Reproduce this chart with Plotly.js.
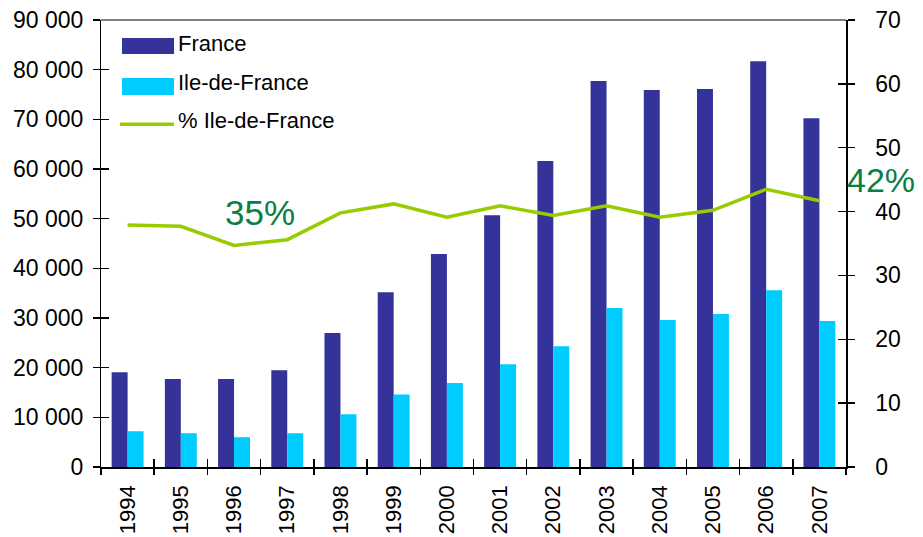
<!DOCTYPE html>
<html>
<head>
<meta charset="utf-8">
<script src="https://cdn.plot.ly/plotly-3.0.1.min.js"></script>
<style>html,body{margin:0;padding:0;background:#fff;}#chart{width:923px;height:537px;}</style>
</head>
<body>
<div id="chart"></div>
<script>
const years = ["1994","1995","1996","1997","1998","1999","2000","2001","2002","2003","2004","2005","2006","2007"];
const france = [19100,17700,17700,19500,27000,35200,42900,50700,61600,77700,75900,76100,81700,70200];
const idf = [7200,6800,6000,6800,10600,14600,16900,20700,24300,32000,29600,30800,35600,29400];
const pctIdf = [37.9,37.7,34.7,35.6,39.8,41.2,39.1,40.9,39.4,40.9,39.1,40.2,43.5,41.7];
const seriesNames = ["France", "Ile-de-France", "% Ile-de-France"];
const labelFirst = "35%";
const labelLast = "42%";

const font = "Liberation Sans, Arial, sans-serif";
const cFrance = "#333399", cIdf = "#00CCFF", cPct = "#99CC00", cLabel = "#0B8043";
const iMin = 2;
const iLast = years.length - 1;
const empty = years.map(() => null);

const traces = [
  {type:"bar", x:years, y:france, name:seriesNames[0], marker:{color:cFrance}, showlegend:false},
  {type:"bar", x:years, y:idf, name:seriesNames[1], marker:{color:cIdf}, showlegend:false},
  {type:"scatter", mode:"lines", x:years, y:pctIdf, name:seriesNames[2], yaxis:"y2",
   line:{color:cPct, width:3.5}, showlegend:false},
  // helper traces without values, so the inner halves of the tick marks are drawn
  {type:"scatter", mode:"lines", x:years, y:empty, xaxis:"x2", yaxis:"y3", showlegend:false, hoverinfo:"skip"},
  {type:"scatter", mode:"lines", x:years, y:empty, xaxis:"x2", yaxis:"y4", showlegend:false, hoverinfo:"skip"}
];

// legend drawn as shapes + texts (paper coordinates)
const legRows = [0.9418, 0.8511, 0.7665];
const legShapes = [
  {type:"rect", xref:"paper", yref:"paper", x0:0.0282, x1:0.098, y0:legRows[0]-0.018, y1:legRows[0]+0.018,
   fillcolor:cFrance, line:{width:0}},
  {type:"rect", xref:"paper", yref:"paper", x0:0.0282, x1:0.098, y0:legRows[1]-0.019, y1:legRows[1]+0.019,
   fillcolor:cIdf, line:{width:0}},
  {type:"line", xref:"paper", yref:"paper", x0:0.0255, x1:0.098, y0:legRows[2], y1:legRows[2],
   line:{color:cPct, width:3.5}}
];
const legTexts = seriesNames.map((n, i) => ({
  text:n, xref:"paper", yref:"paper", x:0.1007, y:legRows[i]+(i === 0 ? 0.005 : 0.009), xanchor:"left", yanchor:"middle",
  showarrow:false, font:{family:font, size:22, color:"#000"}
}));

const tk = {tickcolor:"#000", tickwidth:1.5};

const layout = {
  width:923, height:537,
  margin:{l:101, r:77, t:20, b:70, pad:0},
  paper_bgcolor:"#fff", plot_bgcolor:"#fff",
  font:{family:font, size:21, color:"#000"},
  separators:", ",
  barmode:"group", bargap:0.4, bargroupgap:0,
  showlegend:false,
  xaxis:Object.assign({type:"category", range:[-0.5, 13.5], showgrid:false, showline:true, linecolor:"#000", linewidth:1.5,
         ticks:"outside", ticklen:6, tickson:"boundaries", ticklabelstandoff:8,
         tickangle:-90, tickfont:{family:font, size:22}, zeroline:false}, tk),
  xaxis2:Object.assign({type:"category", overlaying:"x", anchor:"y3", side:"bottom", range:[-0.5, 13.5],
         showgrid:false, showline:false, ticks:"inside", ticklen:8, tickson:"boundaries",
         showticklabels:false, zeroline:false}, tk),
  yaxis:Object.assign({range:[0,90000], dtick:10000, tickformat:",d", ticksuffix:"\u2009", showgrid:false, zeroline:false,
         showline:true, linecolor:"#000", linewidth:1.5, ticks:"outside", ticklen:7,
         tickfont:{family:font, size:23}}, tk),
  yaxis2:Object.assign({range:[0,70], dtick:10, tickprefix:"\u2002\u2009", overlaying:"y", side:"right", anchor:"x",
          showgrid:false, zeroline:false,
          showline:true, linecolor:"#000", linewidth:1.5, ticks:"outside", ticklen:7,
          tickfont:{family:font, size:23}}, tk),
  yaxis3:Object.assign({range:[0,90000], dtick:10000, overlaying:"y", side:"left", anchor:"x2", showgrid:false, zeroline:false,
          showline:false, ticks:"inside", ticklen:8, showticklabels:false}, tk),
  yaxis4:Object.assign({range:[0,70], dtick:10, overlaying:"y", side:"right", anchor:"x2", showgrid:false, zeroline:false,
          showline:false, ticks:"inside", ticklen:8, showticklabels:false}, tk),
  shapes:[
    {type:"line", xref:"paper", yref:"paper", x0:0, x1:1, y0:1, y1:1, line:{color:"#808080", width:2}}
  ].concat(legShapes),
  annotations:[
    {text:labelFirst, xref:"x", yref:"y2", x:iMin, y:pctIdf[iMin], xshift:26, yshift:33, showarrow:false,
     font:{family:font, size:35, color:cLabel}},
    {text:labelLast, xref:"paper", yref:"y2", x:1, y:pctIdf[iLast], xanchor:"left", xshift:-1, yshift:21, showarrow:false,
     font:{family:font, size:34, color:cLabel}}
  ].concat(legTexts)
};

Plotly.newPlot("chart", traces, layout, {displayModeBar:false, staticPlot:true});
</script>
</body>
</html>
